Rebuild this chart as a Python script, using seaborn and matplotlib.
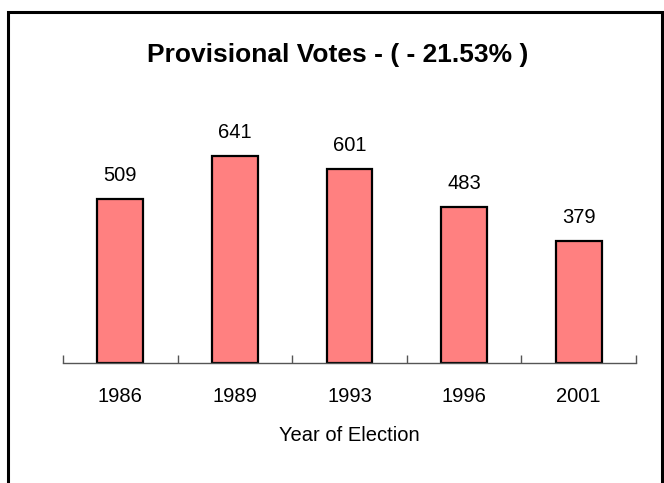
import matplotlib
matplotlib.use("Agg")
import matplotlib.pyplot as plt
import seaborn as sns
import pandas as pd
from matplotlib.patches import Rectangle

years = ["1986", "1989", "1993", "1996", "2001"]
votes = [509, 641, 601, 483, 379]
title = "Provisional Votes - ( - 21.53% )"

sns.set_theme(style="white")
plt.rcParams["font.family"] = ["Liberation Sans", "DejaVu Sans"]
plt.rcParams["text.color"] = "black"
plt.rcParams["xtick.color"] = "black"
plt.rcParams["axes.labelcolor"] = "black"

df = pd.DataFrame({"year": years, "votes": votes})

fig = plt.figure(figsize=(6.64, 4.83), dpi=100)
ax = fig.add_axes([63 / 664, 120 / 483, 573 / 664, 258 / 483])

sns.barplot(data=df, x="year", y="votes", color="#FF8080", saturation=1,
            width=0.4, edgecolor="black", linewidth=1.6, ax=ax)

ax.set_xlim(-0.5, len(years) - 0.5)
ax.set_ylim(0, 800)

# value labels above bars
for i, v in enumerate(votes):
    ax.annotate(str(v), (i, v), xytext=(0, 10), textcoords="offset points",
                ha="center", va="bottom", fontsize=14.5, color="black")

for s in ["top", "right", "left"]:
    ax.spines[s].set_visible(False)
ax.spines["bottom"].set_color("#555555")
ax.spines["bottom"].set_linewidth(1.0)

ax.set_yticks([])
ax.set_ylabel("")
ax.set_xticks(range(len(years)))
ax.set_xticklabels(years, fontsize=14.5)
ax.tick_params(axis="x", length=0, pad=17, labelcolor="black")
# category separator ticks (Excel style)
ax.set_xticks([i - 0.5 for i in range(len(years) + 1)], minor=True)
ax.tick_params(axis="x", which="minor", direction="in", length=6,
               width=1.0, color="#555555", bottom=True)
ax.set_xlabel("Year of Election", fontsize=14.5, labelpad=15)

fig.text(338 / 664, 1 - 55 / 483, title, ha="center", va="center",
         fontsize=19, fontweight="bold", color="black")

# chart frame
fig.patches.append(Rectangle((8 / 664, -0.02), 654 / 664, 1.02 - 12 / 483,
                             transform=fig.transFigure, fill=False,
                             edgecolor="black", linewidth=2.2))

fig.savefig("out.png", dpi=100)
